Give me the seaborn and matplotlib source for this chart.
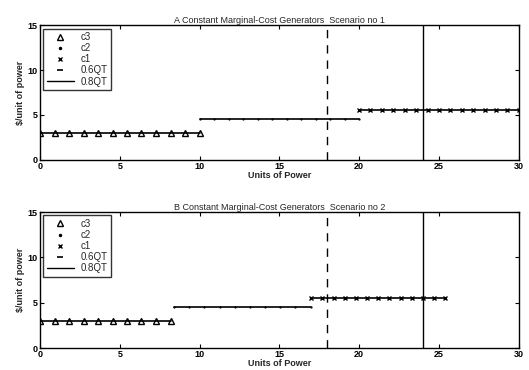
import matplotlib
matplotlib.use("Agg")
import matplotlib.pyplot as plt
import seaborn as sns
from matplotlib.lines import Line2D

sns.set_theme(style="white")
plt.rcParams['font.family'] = ['Liberation Sans', 'DejaVu Sans']

# Scenario 1
s1_c3_x = [0, 0.91, 1.82, 2.73, 3.64, 4.55, 5.45, 6.36, 7.27, 8.18, 9.09, 10]
s1_c3_y = [3.0] * 12
s1_c2_x = [10, 10.91, 11.82, 12.73, 13.64, 14.55, 15.45, 16.36, 17.27, 18.18, 19.09, 20]
s1_c2_y = [4.5] * 12
s1_c1_x = [20, 20.71, 21.43, 22.14, 22.86, 23.57, 24.29, 25, 25.71, 26.43, 27.14, 27.86, 28.57, 29.29, 30]
s1_c1_y = [5.6] * 15

# Scenario 2
s2_c3_x = [0, 0.91, 1.82, 2.73, 3.64, 4.55, 5.45, 6.36, 7.27, 8.18]
s2_c3_y = [3.0] * 10
s2_c2_x = [8.4, 9.35, 10.3, 11.25, 12.2, 13.15, 14.1, 15.05, 16.0, 17.0]
s2_c2_y = [4.5] * 10
s2_c1_x = [17, 17.7, 18.4, 19.1, 19.8, 20.5, 21.2, 21.9, 22.6, 23.3, 24.0, 24.7, 25.4]
s2_c1_y = [5.5] * 13

qt06 = 18
qt08 = 24
x_ticks = [0, 5, 10, 15, 20, 25, 30]
y_ticks = [0, 5, 10, 15]
titles = ["A Constant Marginal-Cost Generators  Scenario no 1",
          "B Constant Marginal-Cost Generators  Scenario no 2"]
xlabel = "Units of Power"
ylabel = "$/unit of power"

fig = plt.figure(figsize=(5.29, 3.70), dpi=100)
ax1 = fig.add_axes([0.0756, 0.568, 0.905, 0.364])
ax2 = fig.add_axes([0.0756, 0.059, 0.905, 0.368])

scen = [
    (ax1, s1_c3_x, s1_c3_y, s1_c2_x, s1_c2_y, s1_c1_x, s1_c1_y, titles[0]),
    (ax2, s2_c3_x, s2_c3_y, s2_c2_x, s2_c2_y, s2_c1_x, s2_c1_y, titles[1]),
]

for ax, c3x, c3y, c2x, c2y, c1x, c1y, title in scen:
    for xs, ys, mk, ms in [(c3x, c3y, '^', 4.5), (c2x, c2y, '.', 1.2), (c1x, c1y, 'x', 3)]:
        sns.lineplot(x=xs, y=ys, ax=ax, color='black', lw=1.2, legend=False,
                     marker=mk, markersize=ms, markerfacecolor='none',
                     markeredgecolor='black', markeredgewidth=1.0, estimator=None)
    sns.lineplot(x=[qt06, qt06], y=[0, 15], ax=ax, color='black', lw=1.0,
                 legend=False, estimator=None)
    ax.lines[-1].set_dashes((6, 5))
    sns.lineplot(x=[qt08, qt08], y=[0, 15], ax=ax, color='black', lw=1.0,
                 legend=False, estimator=None)
    ax.set_xlim(0, 30)
    ax.set_ylim(0, 15)
    ax.set_xticks(x_ticks)
    ax.set_yticks(y_ticks)
    ax.set_xticklabels([str(t) for t in x_ticks], fontsize=6.5, fontweight='bold')
    ax.set_yticklabels([str(t) for t in y_ticks], fontsize=6.5, fontweight='bold')
    ax.tick_params(direction='in', length=3, width=0.8, top=True, right=True,
                   bottom=True, left=True, pad=1.5, colors='black')
    for sp in ax.spines.values():
        sp.set_visible(True)
        sp.set_color('black')
        sp.set_linewidth(1.0)
    ax.set_title(title, fontsize=6.5, pad=1.5)
    ax.set_xlabel(xlabel, fontsize=6.5, fontweight='bold', labelpad=0)
    ax.set_ylabel(ylabel, fontsize=6.5, fontweight='bold', labelpad=2)
    handles = [
        Line2D([], [], color='black', marker='^', ls='none', markersize=5,
               markerfacecolor='none', markeredgewidth=1.0),
        Line2D([], [], color='black', marker='.', ls='none', markersize=3),
        Line2D([], [], color='black', marker='x', ls='none', markersize=3.5),
        Line2D([], [], color='black', marker='_', ls='none', markersize=5,
               markeredgewidth=1.2),
        Line2D([], [], color='black', ls='-', lw=1.0),
    ]
    labels = ['c3', 'c2', 'c1', '0.6QT', '0.8QT']
    leg = ax.legend(handles, labels, loc='upper left', fontsize=7, frameon=True,
                    fancybox=False, edgecolor='black', handlelength=2.8,
                    borderpad=0.35, labelspacing=0.12, handletextpad=0.7,
                    borderaxespad=0.35)
    leg.get_frame().set_linewidth(1.0)

fig.savefig("out.png", dpi=100)
